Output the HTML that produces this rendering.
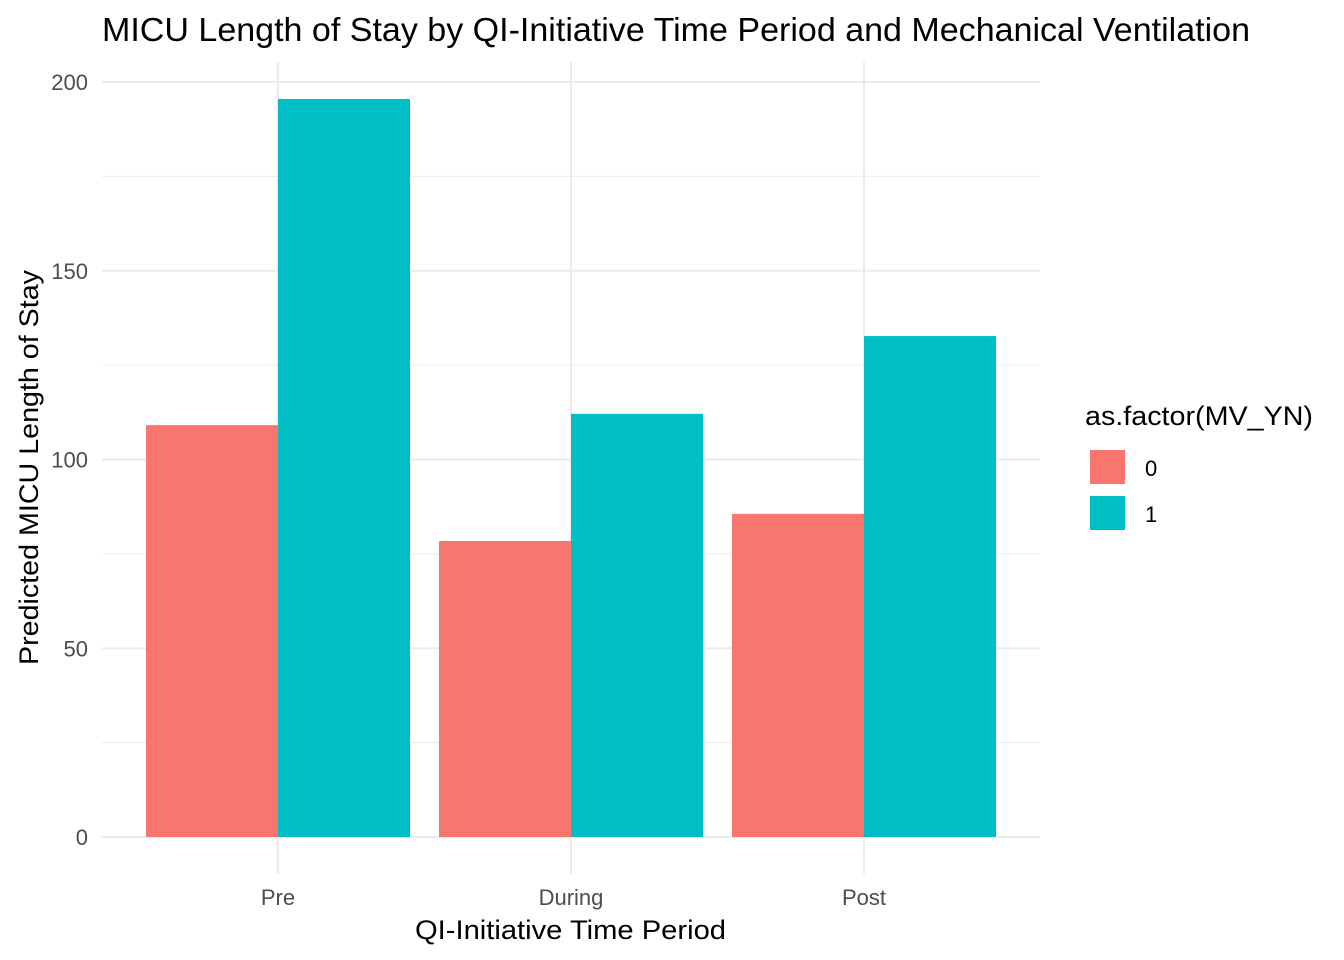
<!DOCTYPE html>
<html><head><meta charset="utf-8">
<style>
html,body{margin:0;padding:0;background:#fff;}
svg{display:block;font-family:"Liberation Sans",Arial,sans-serif;}
</style></head>
<body>
<svg id="chart" width="1344" height="960">
<text x="102" y="41" font-size="33" textLength="1148" lengthAdjust="spacingAndGlyphs" fill="#000">MICU Length of Stay by QI-Initiative Time Period and Mechanical Ventilation</text>
<g id="grid"></g>
<g id="bars"></g>
<g id="axes"></g>
<text x="415" y="939" font-size="27" textLength="311" lengthAdjust="spacingAndGlyphs" fill="#000">QI-Initiative Time Period</text>
<text transform="translate(38,665) rotate(-90)" font-size="27" textLength="395" lengthAdjust="spacingAndGlyphs" fill="#000">Predicted MICU Length of Stay</text>
<g>
<text x="1085" y="425" font-size="27" textLength="228" lengthAdjust="spacingAndGlyphs" fill="#000">as.factor(MV_YN)</text>
<rect x="1090" y="450" width="35" height="34" fill="#F8766D"/>
<text x="1145" y="476" font-size="22" fill="#000">0</text>
<rect x="1090" y="496" width="35" height="34" fill="#00BFC4"/>
<text x="1145" y="522" font-size="22" fill="#000">1</text>
</g>
</svg>
<script>
const categories = ["Pre", "During", "Post"];
const series0 = [109.1, 78.4, 85.6];
const series1 = [195.5, 112.1, 132.7];
const yTicks = [0, 50, 100, 150, 200];
const yMinor = [25, 75, 125, 175];
const colors = ["#F8766D", "#00BFC4"];

const NS = "http://www.w3.org/2000/svg";
const panelL = 102, panelR = 1040, panelTop = 62, panelBot = 874;
const y = v => 837 - v * 3.775;
const x = i => 278 + i * 293;
const barW = 132;
function mk(tag, attrs, parent) {
  const e = document.createElementNS(NS, tag);
  for (const k in attrs) e.setAttribute(k, attrs[k]);
  parent.appendChild(e); return e;
}
const grid = document.getElementById("grid");
yMinor.forEach(v => {
  const l = mk("line", {x1: panelL, x2: panelR, y1: y(v), y2: y(v), stroke: "#ebebeb", "stroke-width": 1}, grid);
  
  
});
yTicks.forEach(v => {
  const l = mk("line", {x1: panelL, x2: panelR, y1: y(v), y2: y(v), stroke: "#ebebeb", "stroke-width": 2}, grid);
  
  
});
categories.forEach((c, i) => {
  const l = mk("line", {x1: x(i), x2: x(i), y1: panelTop, y2: panelBot, stroke: "#ebebeb", "stroke-width": 2}, grid);
  
  
});
const bars = document.getElementById("bars");
categories.forEach((c, i) => {
  [series0, series1].forEach((s, j) => {
    const r = mk("rect", {x: x(i) - barW + j * barW, y: y(s[i]), width: barW, height: y(0) - y(s[i]), fill: colors[j]}, bars);
    
    
  });
});
const axes = document.getElementById("axes");
yTicks.forEach(v => {
  const t = mk("text", {x: 88, y: y(v) + 8, "font-size": 22, "text-anchor": "end", fill: "#4d4d4d"}, axes);
  t.textContent = v;
  
  
});
categories.forEach((c, i) => {
  const t = mk("text", {x: x(i), y: 905, "font-size": 22, "text-anchor": "middle", fill: "#4d4d4d"}, axes);
  t.textContent = c;
  
  
});
</script>
</body></html>
